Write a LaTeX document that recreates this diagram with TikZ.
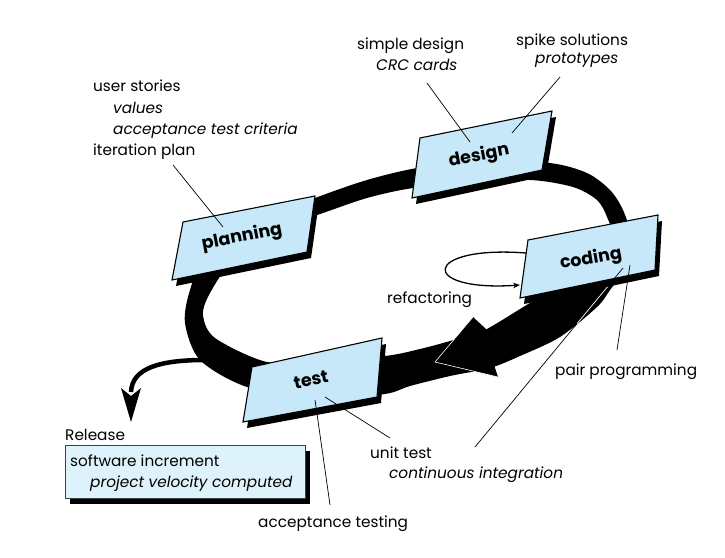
\documentclass[tikz,border=0pt]{standalone}
\usepackage{fontspec}
\setmainfont{Poppins}
\usetikzlibrary{calc,arrows.meta}
\definecolor{cardblue}{RGB}{198,232,248}
\definecolor{relblue}{RGB}{222,242,251}
\newcommand\xpcard[4]{%
  \fill[black] ($#1+(4,6)$) -- ($#2+(4,6)$) -- ($#3+(4,6)$) -- ($#4+(4,6)$) -- cycle;
  \filldraw[cardshape] #1 -- #2 -- #3 -- #4 -- cycle;}
\begin{document}
\begin{tikzpicture}[x=1pt,y=-1pt,
  lbl/.style={anchor=base west, inner sep=0pt, font=\fontsize{15.3}{18}\selectfont},
  ilbl/.style={anchor=base west, inner sep=0pt, font=\fontsize{15.3}{18}\selectfont\itshape},
  cardtext/.style={font=\fontsize{17.5}{20}\selectfont\bfseries, inner sep=0pt},
  leader/.style={line width=0.7pt},
  cardshape/.style={fill=cardblue, draw=black, line width=1.1pt, line join=miter}]
\useasboundingbox[fill=white] (0,0) rectangle (725,557);

% ---- the loop band ----
\fill[black, even odd rule]
  plot[smooth cycle, tension=0.5] coordinates {
    (205,258) (255,222) (315,198) (367,180) (417,168) (480,160) (550,163)
    (587,173) (610,190) (623,210) (630,235) (625,268) (610,290) (597,307)
    (560,337) (520,356) (490,368) (450,376) (410,386) (385,394) (320,400)
    (247,387) (200,360) (185,323) (190,290)}
  plot[smooth cycle, tension=0.5] coordinates {
    (232,262) (280,226) (317,215) (367,198) (413,188) (470,183) (530,180)
    (573,187) (597,200) (607,217) (610,235) (585,270) (555,290) (530,303)
    (483,331) (450,341) (420,349) (385,356) (320,360) (267,362) (215,338)
    (203,315) (210,293)};

% ---- arrow head on the loop ----
\coordinate (tip) at (435,362);
\coordinate (barbU) at (473,317);
\coordinate (barbL) at (498,377);
\fill[black] (tip) -- (barbU) -- (486,329) -- (495,368) -- (barbL) -- cycle;
\draw[white, line width=0.6pt] (barbU) -- (tip) -- (barbL);

% ---- release arrow ----
\coordinate (relstart) at (205,360);
\coordinate (relend) at (131,392);
\coordinate (reltip) at (131,422);
\draw[line width=4.5pt] (relstart) .. controls (160,360) and (132,368) .. (relend);
\fill[black] (121,388) -- (131,396) -- (141,388) -- (reltip) -- cycle;

% ---- continuous integration leader (crosses the band) ----
\coordinate (ciA) at (475,447);
\coordinate (ciB) at (623,268);
\draw[leader] (ciA) -- (ciB);
\draw[leader, white] ($(ciA)!0.69!(ciB)$) -- ($(ciA)!0.935!(ciB)$);

% ---- cards ----
\xpcard{(183,222)}{(315,196)}{(307,252)}{(172,280)}
\xpcard{(420,138)}{(552,111)}{(542,170)}{(412,198)}
\xpcard{(528,240)}{(658,215)}{(655,270)}{(520,298)}
\xpcard{(252,367)}{(382,338)}{(377,397)}{(243,422)}

\node[cardtext, rotate=11] (planning) at (242,237) {planning};
\node[cardtext, rotate=11] (design) at (479,156) {design};
\node[cardtext, rotate=10] (coding) at (591,259) {coding};
\node[cardtext, rotate=11] (test) at (311,380) {test};

% redraw CI leader end inside the coding card
\draw[leader] ($(ciA)!0.94!(ciB)$) -- (ciB);

% ---- release box ----
\fill[black] (70,451) rectangle (310,504);
\node[draw=black!75, fill=relblue, line width=0.8pt, anchor=north west,
      minimum width=240pt, minimum height=53pt, inner sep=0pt] (relbox) at (65,445) {};

% ---- labels ----
\node[lbl]  (us)  at (93,91.5)  {user stories};
\node[ilbl] (val) at (113,113)  {values};
\node[ilbl] (atc) at (113,134)  {acceptance test criteria};
\node[lbl]  (ip)  at (93,155)   {iteration plan};

\node[lbl]  (sd)  at (357,49)   {simple design};
\node[ilbl] (crc) at (376,70)   {CRC cards};
\node[lbl]  (ss)  at (516,45)   {spike solutions};
\node[ilbl] (pt)  at (535,63)   {prototypes};

\node[lbl]  (ref) at (387,303)  {refactoring};
\node[lbl]  (pp)  at (555,375)  {pair programming};
\node[lbl]  (ut)  at (370,458)  {unit test};
\node[ilbl] (ci)  at (389,478)  {continuous integration};
\node[lbl]  (at)  at (258,527)  {acceptance testing};

\node[lbl]  (rel) at (65,440)   {Release};
\node[lbl]  (si)  at (70,466)   {software increment};
\node[ilbl] (pvc) at (90,487)   {project velocity computed};

% ---- leaders ----
\coordinate (ipA) at (173,165);  \coordinate (ipB) at (223,227);
\coordinate (sdA) at (427,83);   \coordinate (sdB) at (470,142);
\coordinate (ssA) at (560,77);   \coordinate (ssB) at (512,133);
\coordinate (ppA) at (617,350);  \coordinate (ppB) at (630,265);
\coordinate (utA) at (390,438);  \coordinate (utB) at (325,397);
\coordinate (atA) at (330,505);  \coordinate (atB) at (315,400);
\draw[leader] (ipA) -- (ipB);
\draw[leader] (sdA) -- (sdB);
\draw[leader] (ssA) -- (ssB);
\draw[leader] (ppA) -- (ppB);
\draw[leader] (utA) -- (utB);
\draw[leader] (atA) -- (atB);

% ---- refactoring loop ----
\coordinate (rfA) at (526,253);
\coordinate (rfB) at (520,285);
\draw[line width=1.3pt, -{Stealth[length=7pt,width=5.5pt]}]
  (rfA) .. controls (422,245) and (418,292) .. (rfB);
\end{tikzpicture}
\end{document}
